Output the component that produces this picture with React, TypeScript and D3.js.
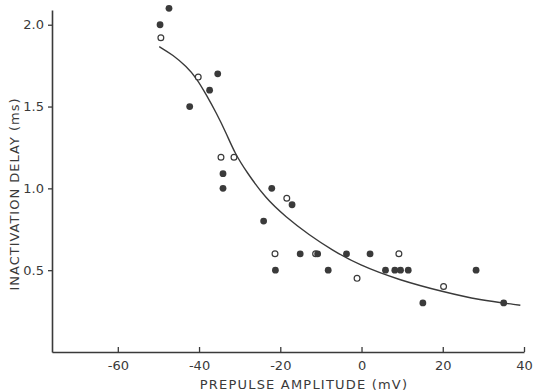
import React, { useRef, useEffect } from 'react';
import * as d3 from 'd3';

// [prepulse mV, inactivation delay ms]
const filledPoints: [number, number][] = [
  [-47.4, 2.10], [-49.6, 2.00], [-35.4, 1.70], [-37.4, 1.60], [-42.3, 1.50],
  [-34.1, 1.09], [-34.1, 1.00], [-22.1, 1.00], [-17.1, 0.90], [-24.1, 0.80],
  [-15.1, 0.60], [-10.8, 0.60], [-3.7, 0.60], [2.1, 0.60], [-21.2, 0.50],
  [-8.2, 0.50], [5.9, 0.50], [8.2, 0.50], [9.6, 0.50], [11.5, 0.50],
  [15.1, 0.30], [28.2, 0.50], [35.0, 0.30],
];

const openPoints: [number, number][] = [
  [-49.4, 1.92], [-40.2, 1.68], [-34.6, 1.19], [-31.4, 1.19], [-18.4, 0.94],
  [-21.3, 0.60], [-11.3, 0.60], [-1.1, 0.45], [9.2, 0.60], [20.2, 0.40],
];

// fitted curve
const fitCurve: [number, number][] = [
  [-49.8, 1.866], [-46.4, 1.815], [-43.1, 1.744], [-40.6, 1.673], [-38.2, 1.571],
  [-35.7, 1.459], [-33.3, 1.337], [-31.2, 1.215], [-28.3, 1.10], [-23.6, 0.939],
  [-18.7, 0.827], [-12.9, 0.715], [-7.2, 0.623], [-0.7, 0.532], [9.2, 0.44],
  [20.2, 0.367], [28.9, 0.318], [39.1, 0.286],
];

const xTicks = [-60, -40, -20, 0, 20, 40];
const yTicks = [0.5, 1.0, 1.5, 2.0];

const ink = '#3a3a3a';
const font = "'DejaVu Sans', sans-serif";

export default function App() {
  const svgRef = useRef<SVGSVGElement | null>(null);

  useEffect(() => {
    if (!svgRef.current) return;
    const svg = d3.select(svgRef.current);
    svg.selectAll('*').remove();

    const x = d3.scaleLinear().domain([-76.2, 40]).range([52, 524]);
    const y = d3.scaleLinear().domain([0, 2.09]).range([352, 10]);

    // x axis: ticks point up into the plot
    const xAxis = svg.append('g')
      .attr('transform', `translate(0,${y(0)})`)
      .call(d3.axisBottom(x).tickValues(xTicks).tickSizeInner(-5).tickSizeOuter(0).tickPadding(8)
        .tickFormat(d => String(d)));
    xAxis.select('.domain').attr('stroke', ink).attr('stroke-width', 1.6);
    xAxis.selectAll('line').attr('stroke', ink).attr('stroke-width', 1.3);
    xAxis.selectAll('text')
      .attr('fill', ink).style('font-family', font).style('font-size', '13px')
      .attr('dy', '0.75em');

    const yAxis = svg.append('g')
      .attr('transform', `translate(${x(-76.2)},0)`)
      .call(d3.axisLeft(y).tickValues(yTicks).tickSizeInner(4).tickSizeOuter(0).tickPadding(4)
        .tickFormat(d3.format('.1f')));
    yAxis.select('.domain').attr('stroke', ink).attr('stroke-width', 1.6);
    yAxis.selectAll('line').attr('stroke', ink).attr('stroke-width', 1.3);
    yAxis.selectAll('text')
      .attr('fill', ink).style('font-family', font).style('font-size', '13px');

    svg.append('text')
      .attr('x', 304).attr('y', 389)
      .attr('text-anchor', 'middle')
      .attr('fill', ink)
      .style('font-family', font).style('font-size', '13px').style('letter-spacing', '1.2px')
      .text('PREPULSE AMPLITUDE (mV)');

    svg.append('text')
      .attr('transform', 'translate(19,194) rotate(-90)')
      .attr('text-anchor', 'middle')
      .attr('fill', ink)
      .style('font-family', font).style('font-size', '13px').style('letter-spacing', '1px')
      .text('INACTIVATION DELAY (ms)');

    const line = d3.line<[number, number]>()
      .x(d => x(d[0]))
      .y(d => y(d[1]))
      .curve(d3.curveBasis);

    svg.append('path')
      .datum(fitCurve)
      .attr('d', line)
      .attr('fill', 'none')
      .attr('stroke', ink)
      .attr('stroke-width', 1.4);

    svg.append('g')
      .selectAll('circle')
      .data(openPoints)
      .join('circle')
      .attr('cx', d => x(d[0]))
      .attr('cy', d => y(d[1]))
      .attr('r', 2.9)
      .attr('fill', 'white')
      .attr('stroke', ink)
      .attr('stroke-width', 1.2);

    svg.append('g')
      .selectAll('circle')
      .data(filledPoints)
      .join('circle')
      .attr('cx', d => x(d[0]))
      .attr('cy', d => y(d[1]))
      .attr('r', 3.4)
      .attr('fill', ink);
  }, []);

  return (
    <svg
      ref={svgRef}
      width={536}
      height={392}
      style={{ position: 'absolute', left: 0, top: 0, background: 'white' }}
    />
  );
}
